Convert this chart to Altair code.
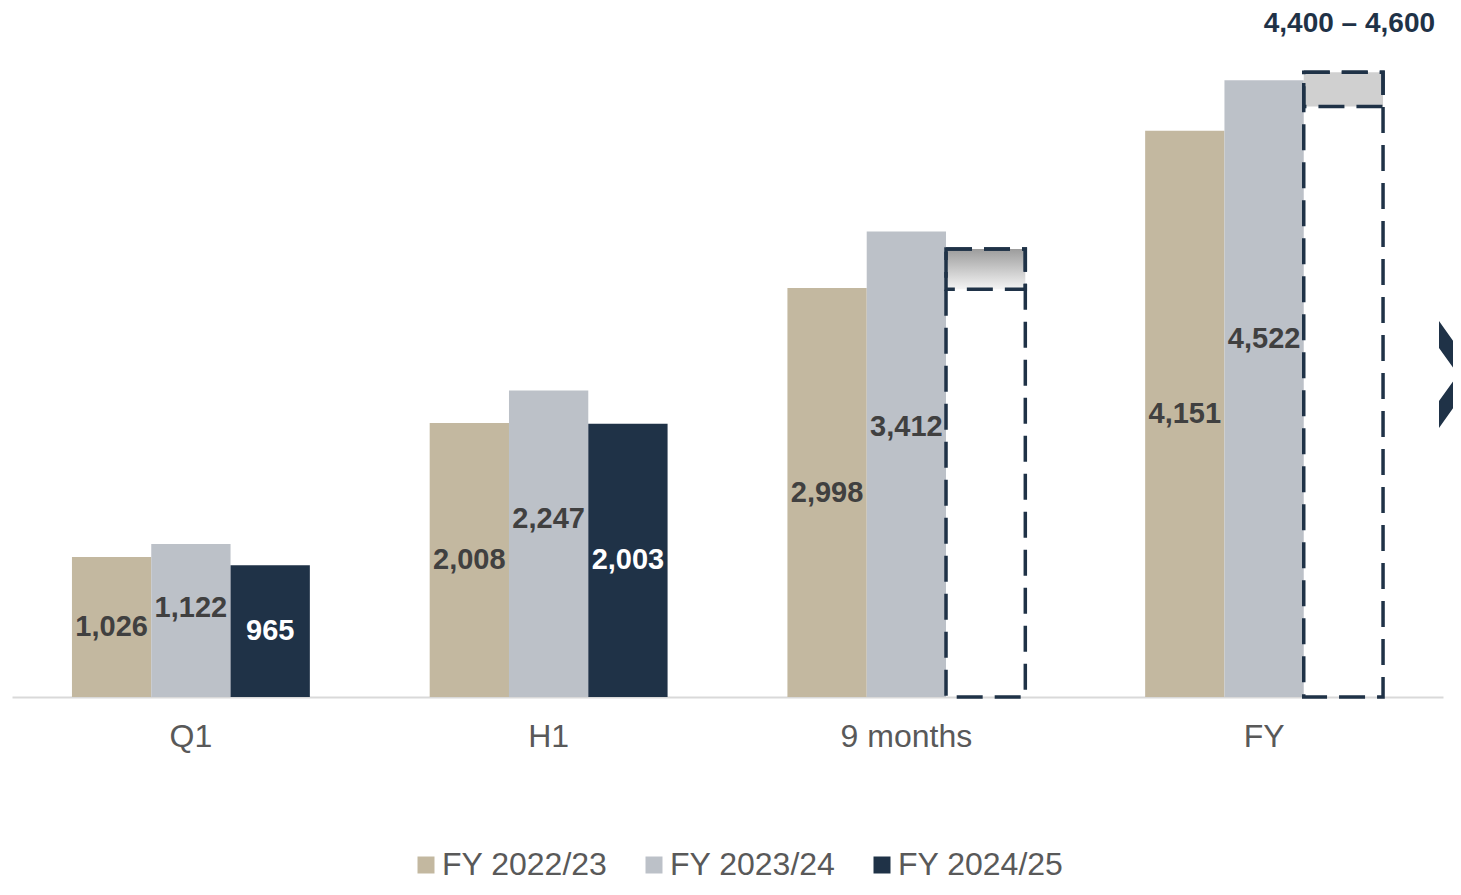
import altair as alt
import pandas as pd

FONT = "Liberation Sans"

periods = ["Q1", "H1", "9 months", "FY"]
series_names = ["FY 2022/23", "FY 2023/24", "FY 2024/25"]
fy2223 = [1026, 2008, 2998, 4151]
fy2324 = [1122, 2247, 3412, 4522]
fy2425 = [965, 2003, None, None]

guide_periods = ["9 months", "FY"]
guide_series = ["FY 2024/25", "FY 2024/25"]
guide_low = [2990, 4330]
guide_high = [3285, 4580]
guide_text = ["", "4,400 – 4,600"]

colors = ["#C3B8A0", "#BCC1C8", "#1F3247"]
NAVY = "#1F3247"

rows = []
for s, vals in zip(series_names, [fy2223, fy2324, fy2425]):
    for p, v in zip(periods, vals):
        if v is not None:
            rows.append({"period": p, "series": s, "value": v})
bars_df = pd.DataFrame(rows)

guide_df = pd.DataFrame({
    "period": guide_periods,
    "series": guide_series,
    "low": guide_low,
    "high": guide_high,
    "label": guide_text,
})

x_enc = alt.X(
    "period:N", sort=periods,
    scale=alt.Scale(domain=periods, paddingInner=0.335, paddingOuter=0.1676),
    axis=alt.Axis(title=None, labelAngle=0, labelFontSize=32, labelColor="#595959",
                  labelFont=FONT, ticks=False, domainColor="#D9D9D9", domainWidth=2,
                  labelPadding=24, grid=False),
)
xoff = alt.XOffset("series:N", sort=series_names,
                   scale=alt.Scale(domain=series_names, paddingInner=0, paddingOuter=0))
yscale = alt.Scale(domain=[0, 5000], nice=False, zero=True)

base = alt.Chart(bars_df)

bars = base.mark_bar(strokeWidth=0).encode(
    x=x_enc, xOffset=xoff,
    y=alt.Y("value:Q", scale=yscale, axis=None),
    color=alt.Color("series:N", sort=series_names,
                    scale=alt.Scale(domain=series_names, range=colors),
                    legend=alt.Legend(orient="none", legendX=398, legendY=834,
                                      direction="horizontal", title=None,
                                      symbolType="square", symbolSize=289,
                                      symbolStrokeWidth=0, labelFontSize=32,
                                      labelFont=FONT, labelColor="#595959",
                                      labelLimit=400,
                                      columnPadding=30, labelOffset=0)),
)

labels = base.transform_calculate(
    labelpos="datum.series == 'FY 2023/24' ? datum.value * 0.58 : datum.value * 0.5"
).mark_text(font=FONT, fontSize=29, fontWeight="bold", baseline="middle").encode(
    x=x_enc, xOffset=xoff,
    y=alt.Y("labelpos:Q", scale=yscale, axis=None),
    text=alt.Text("value:Q", format=",.0f"),
    color=alt.condition("datum.series == 'FY 2024/25'", alt.value("#FFFFFF"), alt.value("#404040")),
)

gbase = alt.Chart(guide_df)

grad_fill = {
    "gradient": "linear", "x1": 0, "y1": 0, "x2": 0, "y2": 1,
    "stops": [{"offset": 0, "color": "#9C9C9C"}, {"offset": 1, "color": "#F4F4F4"}],
}

inner9 = gbase.transform_filter("datum.period == '9 months'").mark_bar(
    fill=grad_fill, stroke=NAVY, strokeWidth=3.5, strokeDash=[26, 12]
).encode(x=x_enc, xOffset=xoff,
         y=alt.Y("high:Q", scale=yscale, axis=None), y2="low:Q")

innerFY = gbase.transform_filter("datum.period == 'FY'").mark_bar(
    fill="#D0D0D0", stroke=NAVY, strokeWidth=3.5, strokeDash=[26, 12]
).encode(x=x_enc, xOffset=xoff,
         y=alt.Y("high:Q", scale=yscale, axis=None), y2="low:Q")

outer = gbase.mark_bar(
    fill="transparent", stroke=NAVY, strokeWidth=3.5, strokeDash=[26, 12]
).encode(x=x_enc, xOffset=xoff,
         y=alt.Y("high:Q", scale=yscale, axis=None), y2=alt.datum(0))

gtext = gbase.transform_filter("datum.label != ''").mark_text(
    font=FONT, fontSize=28, fontWeight="bold", color=NAVY, dy=-48, dx=6, baseline="middle"
).encode(x=x_enc, xOffset=xoff,
         y=alt.Y("high:Q", scale=yscale, axis=None), text="label:N")

chevron_path = "M-0.355,-1 L0.355,0 L-0.355,1 L-0.355,0.495 L0,0 L-0.355,-0.495 Z"
chevron = alt.Chart(pd.DataFrame({"k": [0]})).mark_point(
    shape=chevron_path, size=11449, filled=True, color=NAVY, opacity=1, strokeWidth=0
).encode(x=alt.value(1446), y=alt.value(359.5))

chart = alt.layer(bars, inner9, innerFY, outer, labels, gtext, chevron).properties(
    width=1431, height=682,
    autosize=alt.AutoSizeParams(type="none"),
    padding={"left": 4, "top": 7, "right": 10, "bottom": 188},
).configure_view(stroke=None).configure_axis(grid=False)

chart.save("out.html", embed_options={"renderer": "svg", "actions": False})
